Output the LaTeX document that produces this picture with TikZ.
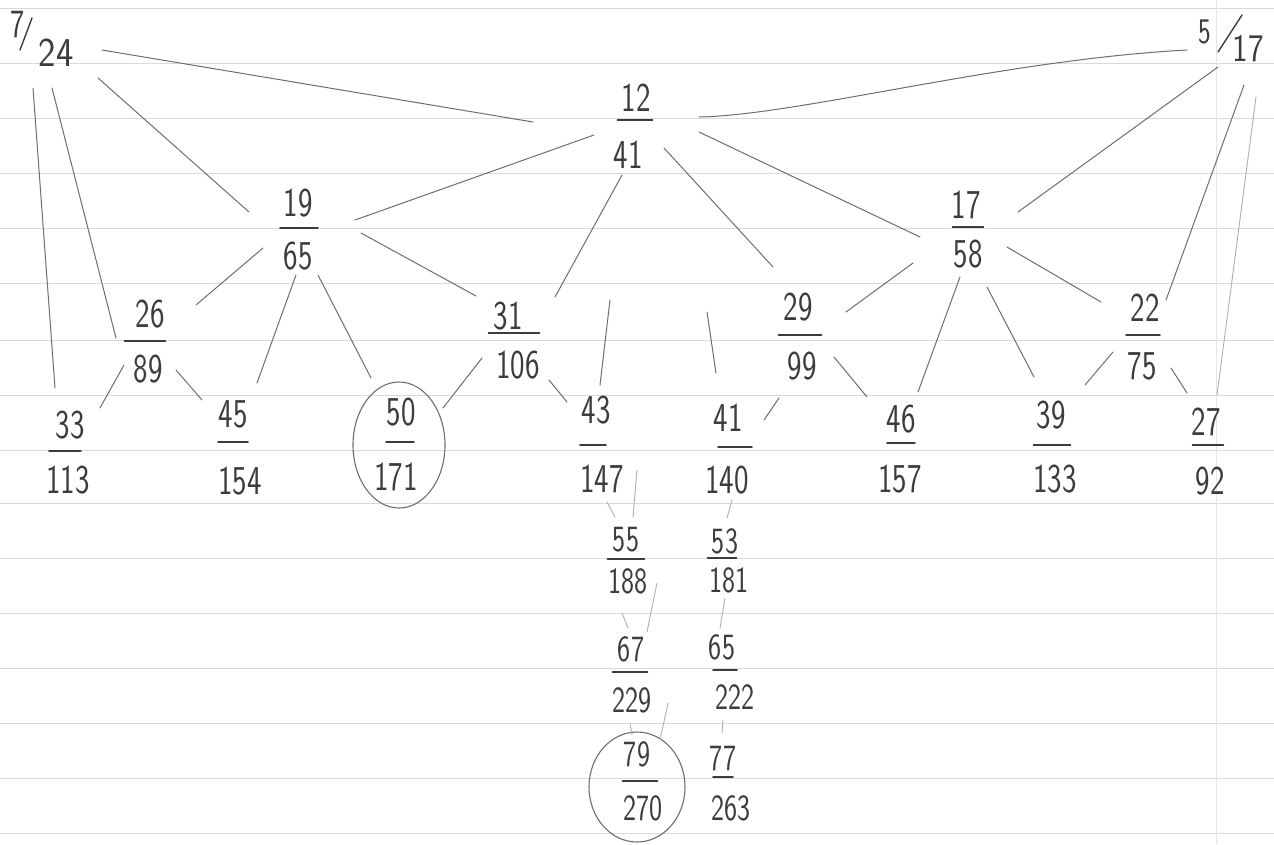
\documentclass[tikz,border=0pt]{standalone}
\usepackage{fontspec}
\usepackage{graphicx}
\usetikzlibrary{calc}
\definecolor{pencil}{HTML}{3C3C3C}
\definecolor{lead}{HTML}{6E6E6E}
\definecolor{ruling}{HTML}{DADADA}
\newcommand\hw[1]{\scalebox{0.75}[1]{#1}}
\tikzset{
  dig/.style={inner sep=0pt, text=pencil, font=\sffamily\fontsize{41}{41}\selectfont},
  sdig/.style={dig, font=\sffamily\fontsize{37}{37}\selectfont},
  bar/.style={draw=pencil, line width=1.8pt, line cap=round},
  slash/.style={draw=pencil, line width=1.4pt, line cap=round},
  pen/.style={draw=lead, line width=1pt, line cap=round},
  faint/.style={draw=lead!55, line width=0.9pt, line cap=round},
  ruled/.style={draw=ruling, line width=0.8pt},
  ring/.style={draw=lead, line width=1.1pt},
}
% fraction: [style]{name}{bar centre}{half bar}{num}{num centre}{den}{den centre}
\newcommand\fr[8][dig]{%
  \coordinate (#2) at (#3);
  \node[#1] (#2n) at (#6) {\hw{#5}};
  \node[#1] (#2d) at (#8) {\hw{#7}};
  \draw[bar] ($(#2)+(-#4,0)$) -- ($(#2)+(#4,0)$);}
% connector between two named fractions, with offsets from their centres
\newcommand\edge[5][pen]{\draw[#1] ($(#2)+(#3)$) -- ($(#4)+(#5)$);}
\begin{document}
\begin{tikzpicture}[x=1pt,y=-1pt]
\useasboundingbox (0,0) rectangle (1274,844);
\fill[white] (0,0) rectangle (1274,844);
% ruled paper
\foreach \yy in {8,63,118,173,228,283,340,395,450,503,558,613,668,723,778,833}
  \draw[ruled] (0,\yy) -- (1274,\yy);
\draw[draw=ruling!70, line width=0.6pt] (1216,0) -- (1216,844);

% slashed fractions
\coordinate (f724) at (45,45);
\node[dig, font=\sffamily\fontsize{40}{40}\selectfont] (f724n) at (18,25) {\hw{7}};
\node[dig] (f724d) at (56,53) {\scalebox{0.9}[1]{24}};
\draw[slash] ($(f724)+(-13,-27)$) -- ($(f724)+(-25,5)$);
\coordinate (f517) at (1230,40);
\node[dig, font=\sffamily\fontsize{36}{36}\selectfont] (f517n) at (1205,32) {\hw{5}};
\node[dig, font=\sffamily\fontsize{39}{39}\selectfont] (f517d) at (1248,49) {\scalebox{0.85}[1]{17}};
\draw[slash] ($(f517)+(12,-25)$) -- ($(f517)+(-12,12)$);

% fractions
\fr{f1241}{635,120}{17.5}{12}{636,98}{41}{628,155}
\fr{f1965}{299,228}{19}{19}{298,203}{65}{298,256}
\fr{f1758}{968,227}{15.5}{17}{966,205}{58}{968,254}
\fr{f2689}{145,341}{20.5}{26}{150,314}{89}{148,369}
\fr{f31106}{514,333}{25.5}{31}{508,316}{106}{518,365}
\fr{f2999}{800,335}{21.5}{29}{798,307}{99}{802,366}
\fr{f2275}{1143,335}{17}{22}{1145,308}{75}{1142,366}
\fr{f33113}{65,451}{16}{33}{70,425}{113}{68,480}
\fr{f45154}{233,442}{15}{45}{233,414}{154}{240,481}
\fr{f50171}{400,442}{14}{50}{401,412}{171}{396,477}
\fr{f43147}{593,445}{13}{43}{596,410}{147}{602,479}
\fr{f41140}{735,447}{17}{41}{728,418}{140}{727,480}
\fr{f46157}{901,443}{14}{46}{901,419}{157}{900,479}
\fr{f39133}{1052,445}{18.5}{39}{1051,415}{133}{1055,479}
\fr{f2792}{1208,445}{15.5}{27}{1206,422}{92}{1210,481}
\fr[sdig]{f55188}{626,559}{18.5}{55}{626,540}{188}{628,581}
\fr[sdig]{f53181}{722,558}{14.5}{53}{725,541}{181}{729,580}
\fr[sdig]{f67229}{630,672}{17.5}{67}{631,649}{229}{632,700}
\fr[sdig]{f65222}{725,670}{12}{65}{722,647}{222}{735,697}
\fr[sdig]{f79270}{640,781}{17.5}{79}{637,754}{270}{643,808}
\fr[sdig]{f77263}{723,777}{10}{77}{723,758}{263}{731,808}

% circles
\draw[ring] ($(f50171)+(-1,3)$) ellipse [x radius=46, y radius=63];
\draw[ring] ($(f79270)+(-3,6)$) ellipse [x radius=48, y radius=55];

% connectors
\edge{f724}{57,5}{f1241}{-102,2}
\edge{f724}{53,33}{f1965}{-50,-16}
\edge{f724}{7,43}{f2689}{-29,-3}
\edge{f724}{-12,43}{f33113}{-10,-63}
\draw[pen] ($(f517)+(-43,10)$) .. controls ($(f517)+(-230,20)$) and ($(f1241)+(165,-5)$) .. ($(f1241)+(64,-3)$);
\edge{f517}{-12,27}{f1758}{50,-15}
\edge{f517}{14,45}{f2275}{23,-35}
\edge[faint]{f517}{26,57}{f2792}{9,-50}
\edge{f1241}{-41,15}{f1965}{56,-8}
\edge{f1241}{-13,55}{f31106}{41,-36}
\edge{f1241}{29,28}{f2999}{-27,-68}
\edge{f1241}{64,12}{f1758}{-48,10}
\edge{f1965}{-36,20}{f2689}{51,-36}
\edge{f1965}{-3,47}{f45154}{24,-59}
\edge{f1965}{19,47}{f50171}{-29,-64}
\edge{f1965}{62,5}{f31106}{-38,-37}
\edge{f1758}{-55,36}{f2999}{46,-23}
\edge{f1758}{-8,50}{f46157}{17,-51}
\edge{f1758}{19,60}{f39133}{-18,-68}
\edge{f1758}{39,20}{f2275}{-42,-33}
\edge{f2689}{-21,24}{f33113}{35,-43}
\edge{f2689}{31,29}{f45154}{-31,-42}
\edge{f31106}{-32,25}{f50171}{43,-34}
\edge{f31106}{35,47}{f43147}{-26,-43}
\edge{f43147}{17,-145}{f43147}{7,-60}
\edge{f41140}{-28,-135}{f41140}{-19,-74}
\edge{f2999}{-21,63}{f41140}{29,-27}
\edge{f2999}{34,22}{f46157}{-34,-46}
\edge{f2275}{-30,17}{f39133}{33,-60}
\edge{f2275}{28,33}{f2792}{-21,-52}
\edge[faint]{f43147}{14,57}{f55188}{-11,-42}
\edge[faint]{f55188}{11,-89}{f55188}{7,-42}
\edge[faint]{f41140}{-3,53}{f53181}{5,-40}
\edge[faint]{f55188}{-4,54}{f67229}{-2,-44}
\edge[faint]{f67229}{27,-89}{f67229}{17,-40}
\edge[faint]{f53181}{3,40}{f65222}{-5,-42}
\edge[faint]{f67229}{0,51}{f79270}{-8,-46}
\edge[faint]{f79270}{28,-78}{f79270}{20,-41}
\edge[faint]{f65222}{-2,50}{f77263}{-1,-44}
\end{tikzpicture}
\end{document}
